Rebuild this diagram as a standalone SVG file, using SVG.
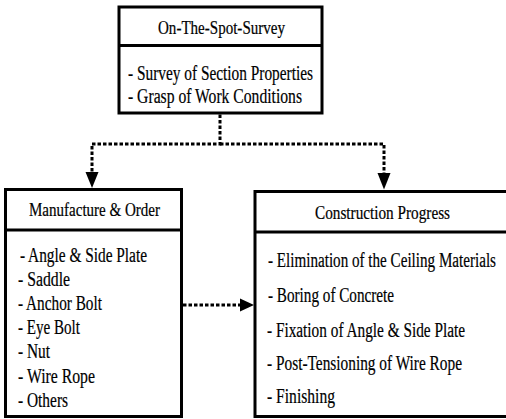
<svg xmlns="http://www.w3.org/2000/svg" width="506" height="419" viewBox="0 0 506 419">
<style>
.box{fill:#fff;stroke:#000;stroke-width:3}
.div{stroke:#000;stroke-width:3}
.hd{font-family:"Liberation Serif","Times New Roman","DejaVu Serif",serif;font-size:18px;fill:#000;stroke:#000;stroke-width:0.2}
.it{font-family:"Liberation Serif","Times New Roman","DejaVu Serif",serif;font-size:20px;fill:#000;stroke:#000;stroke-width:0.2}
.con{fill:none;stroke:#000;stroke-width:3;stroke-dasharray:3.5 2}
.ah{fill:#000}
</style>
<rect width="506" height="419" fill="#fff"/>
<g id="survey">
<rect class="box" x="119" y="7" width="203" height="106"/>
<line class="div" x1="119" y1="45.5" x2="322" y2="45.5"/>
<text class="hd" x="158" y="34" textLength="127" lengthAdjust="spacingAndGlyphs">On-The-Spot-Survey</text>
<text class="it" x="128" y="79.5" textLength="185" lengthAdjust="spacingAndGlyphs">- Survey of Section Properties</text>
<text class="it" x="128" y="103" textLength="174" lengthAdjust="spacingAndGlyphs">- Grasp of Work Conditions</text>
</g>
<g id="manufacture">
<rect class="box" x="5.5" y="189.5" width="176" height="227"/>
<line class="div" x1="5.5" y1="230" x2="181.5" y2="230"/>
<text class="hd" x="29" y="216" textLength="131" lengthAdjust="spacingAndGlyphs">Manufacture &amp; Order</text>
<text class="it" x="20" y="262" textLength="127" lengthAdjust="spacingAndGlyphs">- Angle &amp; Side Plate</text>
<text class="it" x="18" y="286" textLength="52" lengthAdjust="spacingAndGlyphs">- Saddle</text>
<text class="it" x="18" y="310" textLength="84" lengthAdjust="spacingAndGlyphs">- Anchor Bolt</text>
<text class="it" x="18" y="334" textLength="62" lengthAdjust="spacingAndGlyphs">- Eye Bolt</text>
<text class="it" x="18" y="358" textLength="32" lengthAdjust="spacingAndGlyphs">- Nut</text>
<text class="it" x="18" y="383" textLength="77" lengthAdjust="spacingAndGlyphs">- Wire Rope</text>
<text class="it" x="18" y="407" textLength="50" lengthAdjust="spacingAndGlyphs">- Others</text>
</g>
<g id="construction">
<rect class="box" x="255" y="191.5" width="254" height="225"/>
<line class="div" x1="255" y1="232" x2="509" y2="232"/>
<text class="hd" x="315" y="219" textLength="135" lengthAdjust="spacingAndGlyphs">Construction Progress</text>
<text class="it" x="268" y="267" textLength="228" lengthAdjust="spacingAndGlyphs">- Elimination of the Ceiling Materials</text>
<text class="it" x="268" y="302" textLength="126" lengthAdjust="spacingAndGlyphs">- Boring of Concrete</text>
<text class="it" x="267" y="337" textLength="198" lengthAdjust="spacingAndGlyphs">- Fixation of Angle &amp; Side Plate</text>
<text class="it" x="267" y="370" textLength="195" lengthAdjust="spacingAndGlyphs">- Post-Tensioning of Wire Rope</text>
<text class="it" x="267" y="403" textLength="68" lengthAdjust="spacingAndGlyphs">- Finishing</text>
</g>
<g id="connectors">
<path class="con" d="M220,114.5 V144 H92 V173"/>
<path class="con" d="M220,144 H384 V174"/>
<path class="con" d="M183,305 H241"/>
<polygon class="ah" points="85.5,172 98.5,172 92,188"/>
<polygon class="ah" points="377.5,173 390.5,173 384,189.5"/>
<polygon class="ah" points="240,298.5 240,311.5 254,305"/>
</g>
</svg>
